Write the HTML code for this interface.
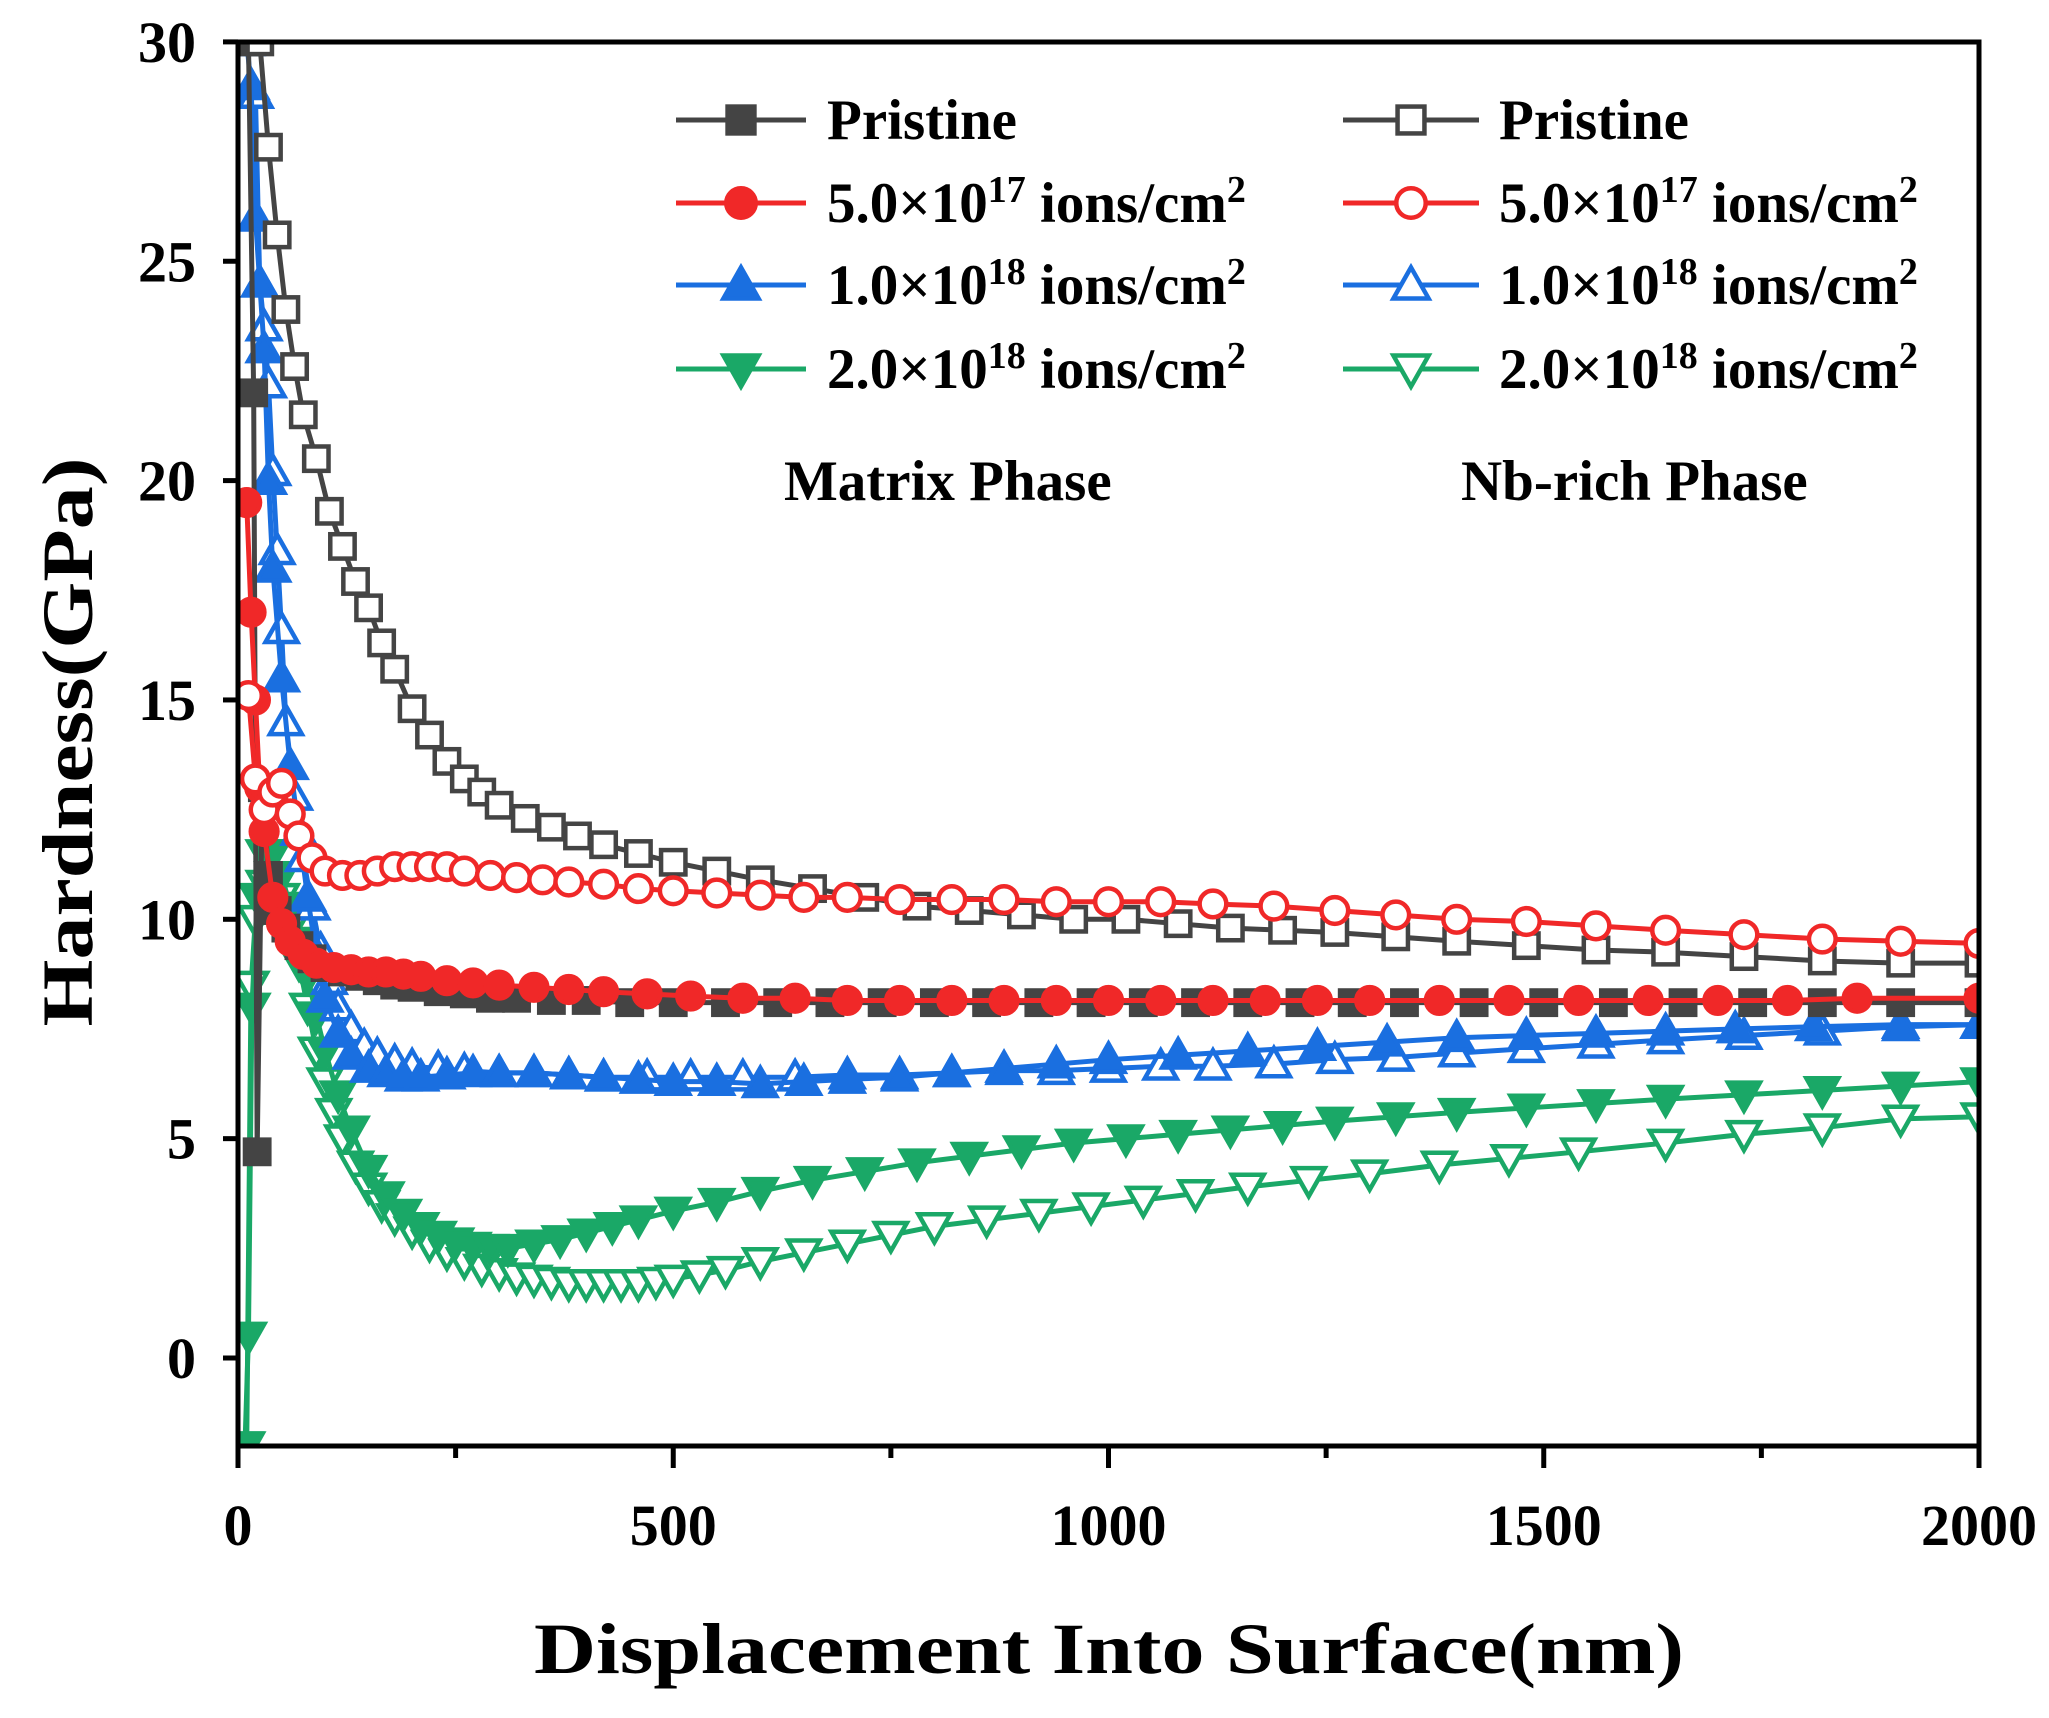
<!DOCTYPE html>
<html><head><meta charset="utf-8"><style>
html,body{margin:0;padding:0;background:#fff;}
svg{display:block;font-family:"Liberation Serif",serif;font-weight:bold;}
</style></head><body>
<svg id="chart" width="2049" height="1718" viewBox="0 0 2049 1718" xmlns="http://www.w3.org/2000/svg">
<rect width="2049" height="1718" fill="#fff"/>
<g id="series"></g>
<g id="axes"></g>
<g id="legend"></g>
</svg>
<script>
const xTicks=[0,500,1000,1500,2000];
const yTicks=[0,5,10,15,20,25,30];
const mPrisX=[12,18,22,28,35,45,55,70,85,100,120,140,160,180,200,230,260,290,320,360,400,450,500,560,620,680,740,800,860,920,980,1040,1100,1160,1220,1280,1340,1420,1500,1580,1660,1740,1820,1910,2000];
const mPrisY=[30,22,4.7,13,11,10.2,9.8,9.4,9.1,8.9,8.8,8.7,8.6,8.5,8.45,8.35,8.3,8.2,8.2,8.15,8.15,8.1,8.1,8.1,8.1,8.1,8.1,8.1,8.1,8.1,8.1,8.1,8.1,8.1,8.1,8.1,8.1,8.1,8.1,8.1,8.1,8.1,8.1,8.1,8.1];
const m5X=[10,15,20,25,30,40,50,60,75,90,110,130,150,170,190,210,240,270,300,340,380,420,470,520,580,640,700,760,820,880,940,1000,1060,1120,1180,1240,1300,1380,1460,1540,1620,1700,1780,1860,2000];
const m5Y=[19.5,17,15,13,12,10.5,9.9,9.5,9.2,9.0,8.9,8.85,8.8,8.8,8.75,8.7,8.6,8.55,8.5,8.45,8.4,8.35,8.3,8.25,8.2,8.2,8.15,8.15,8.15,8.15,8.15,8.15,8.15,8.15,8.15,8.15,8.15,8.15,8.15,8.15,8.15,8.15,8.15,8.2,8.2];
const m1X=[10,15,20,25,30,35,40,50,60,70,80,90,100,115,130,150,170,190,210,240,270,300,340,380,420,460,500,550,600,650,700,760,820,880,940,1000,1080,1160,1240,1320,1400,1480,1560,1640,1720,1810,1910,2000];
const m1Y=[30,29,26,24.5,23,20,18,15.5,13.5,12,10.5,9.2,8.2,7.4,6.9,6.6,6.5,6.4,6.4,6.45,6.5,6.5,6.5,6.45,6.4,6.35,6.3,6.3,6.25,6.3,6.35,6.4,6.5,6.6,6.7,6.8,6.9,7.0,7.1,7.2,7.3,7.35,7.4,7.45,7.5,7.55,7.6,7.6];
const m2X=[8,12,16,22,30,40,50,60,70,80,90,100,115,130,150,170,190,210,230,250,270,290,310,340,370,400,430,460,500,550,600,660,720,780,840,900,960,1020,1080,1140,1200,1260,1330,1400,1480,1560,1640,1730,1820,1910,2000];
const m2Y=[-2,0.5,8,10.5,11.5,11.5,11,10.3,9.5,8.7,7.8,7.0,6.0,5.2,4.3,3.7,3.3,3.0,2.8,2.65,2.55,2.5,2.5,2.6,2.7,2.85,3.0,3.15,3.35,3.55,3.8,4.05,4.25,4.45,4.6,4.75,4.9,5.0,5.1,5.2,5.3,5.4,5.5,5.6,5.7,5.8,5.9,6.0,6.1,6.2,6.3];
const nPrisX=[25,35,45,55,65,75,90,105,120,135,150,165,180,200,220,240,260,280,300,330,360,390,420,460,500,550,600,660,720,780,840,900,960,1020,1080,1140,1200,1260,1330,1400,1480,1560,1640,1730,1820,1910,2000];
const nPrisY=[30,27.6,25.6,23.9,22.6,21.5,20.5,19.3,18.5,17.7,17.1,16.3,15.7,14.8,14.2,13.6,13.2,12.9,12.6,12.3,12.1,11.9,11.7,11.5,11.3,11.1,10.9,10.7,10.5,10.3,10.2,10.1,10.0,10.0,9.9,9.8,9.75,9.7,9.6,9.5,9.4,9.3,9.25,9.15,9.05,9.0,9.0];
const n5X=[12,20,30,40,50,60,70,85,100,120,140,160,180,200,220,240,260,290,320,350,380,420,460,500,550,600,650,700,760,820,880,940,1000,1060,1120,1190,1260,1330,1400,1480,1560,1640,1730,1820,1910,2000];
const n5Y=[15.1,13.2,12.5,12.9,13.1,12.4,11.9,11.4,11.1,11.0,11.0,11.1,11.2,11.2,11.2,11.2,11.1,11.0,10.95,10.9,10.85,10.8,10.7,10.65,10.6,10.55,10.5,10.5,10.45,10.45,10.45,10.4,10.4,10.4,10.35,10.3,10.2,10.1,10.0,9.95,9.85,9.75,9.65,9.55,9.5,9.45];
const n1X=[20,25,30,35,40,45,50,55,65,75,85,95,105,115,130,145,160,180,200,230,260,300,340,380,420,470,520,580,640,700,760,820,880,940,1000,1060,1120,1190,1260,1330,1400,1480,1560,1640,1730,1820,1910,2000];
const n1Y=[28.8,24.5,23.5,22.2,20.2,18.4,16.6,14.5,12.8,11.4,10.3,9.3,8.6,8.0,7.5,7.1,6.9,6.75,6.65,6.6,6.55,6.5,6.5,6.45,6.4,6.4,6.4,6.4,6.4,6.45,6.45,6.5,6.55,6.55,6.6,6.65,6.65,6.7,6.8,6.85,6.95,7.05,7.15,7.25,7.35,7.45,7.55,7.6];
const n2X=[10,15,20,30,40,50,60,70,80,90,100,110,120,135,150,165,180,200,220,240,260,280,300,320,340,360,380,400,420,440,460,480,500,530,560,600,650,700,750,800,860,920,980,1040,1100,1160,1230,1300,1380,1460,1540,1640,1730,1820,1910,2000];
const n2Y=[-2,8.5,10,10.8,11,10.5,9.8,9.0,8.0,7.0,6.3,5.6,5.0,4.4,3.9,3.5,3.2,2.9,2.6,2.4,2.2,2.05,1.95,1.85,1.8,1.75,1.7,1.7,1.7,1.7,1.7,1.75,1.8,1.9,2.0,2.2,2.4,2.6,2.8,3.0,3.15,3.3,3.45,3.6,3.75,3.9,4.05,4.2,4.4,4.55,4.7,4.9,5.1,5.25,5.45,5.5];

const L=238,R=1979,T=42,B=1446;
const xs=v=>L+(v/2000)*(R-L);
const ys=v=>1358-(v)*43.87;
const NS='http://www.w3.org/2000/svg';
function mk(tag,attrs,parent){const e=document.createElementNS(NS,tag);for(const k in attrs)e.setAttribute(k,attrs[k]);parent.appendChild(e);return e;}

function marker(parent,shape,cx,cy,color,filled,sz){
  const fill=filled?color:'#fff';const s=sz;const sw=4.5;
  let e;
  if(shape==='sq'){e=mk('rect',{x:cx-s*0.42,y:cy-s*0.42,width:s*0.84,height:s*0.84,fill:fill,stroke:color,'stroke-width':sw},parent);}
  else if(shape==='ci'){e=mk('circle',{cx:cx,cy:cy,r:s*0.46,fill:fill,stroke:color,'stroke-width':sw},parent);}
  else if(shape==='up'){e=mk('polygon',{points:`${cx},${cy-s*0.55} ${cx-s*0.55},${cy+s*0.42} ${cx+s*0.55},${cy+s*0.42}`,fill:fill,stroke:color,'stroke-width':sw},parent);}
  else {e=mk('polygon',{points:`${cx},${cy+s*0.55} ${cx-s*0.55},${cy-s*0.42} ${cx+s*0.55},${cy-s*0.42}`,fill:fill,stroke:color,'stroke-width':sw},parent);}
  return e;
}

const seriesG=document.getElementById('series');
const clip=mk('clipPath',{id:'pc'},seriesG);mk('rect',{x:L,y:T,width:R-L,height:B-T},clip);
const defs=[
 ['nb-2e18',n2X,n2Y,'#1aa867','dn',false],
 ['matrix-2e18',m2X,m2Y,'#1aa867','dn',true],
 ['nb-1e18',n1X,n1Y,'#1a6fe0','up',false],
 ['matrix-1e18',m1X,m1Y,'#1a6fe0','up',true],
 ['matrix-pristine',mPrisX,mPrisY,'#444','sq',true],
 ['matrix-5e17',m5X,m5Y,'#f02828','ci',true],
 ['nb-pristine',nPrisX,nPrisY,'#444','sq',false],
 ['nb-5e17',n5X,n5Y,'#f02828','ci',false]
];
defs.forEach(d=>{
  const g=mk('g',{'clip-path':'url(#pc)'},seriesG);
  
  
  const pts=d[1].map((x,i)=>xs(x)+','+ys(d[2][i])).join(' ');
  const pl=mk('polyline',{points:pts,fill:'none',stroke:d[3],'stroke-width':5},g);
  
  
  d[1].forEach((x,i)=>{
    const m=marker(g,d[4],xs(x),ys(d[2][i]),d[3],d[5],29);
    
    
  });
});

const ax=document.getElementById('axes');
const frame=mk('rect',{x:L,y:T,width:R-L,height:B-T,fill:'none',stroke:'#000','stroke-width':5},ax);


yTicks.forEach(v=>{
  const y=ys(v);
  const t=mk('line',{x1:L-15,x2:L,y1:y,y2:y,stroke:'#000','stroke-width':5},ax);
  
  
  const tx=mk('text',{x:196,y:y+20,'text-anchor':'end','font-size':58},ax);tx.textContent=v;
  
  
});
xTicks.forEach((v,i)=>{
  const x=xs(v);
  const t=mk('line',{x1:x,x2:x,y1:B,y2:B+22,stroke:'#000','stroke-width':5},ax);
  
  
  if(i<xTicks.length-1){const mt=mk('line',{x1:xs(v+250),x2:xs(v+250),y1:B,y2:B+12,stroke:'#000','stroke-width':5},ax);
  
  }
  const tx=mk('text',{x:x,y:1545,'text-anchor':'middle','font-size':58},ax);tx.textContent=v;
  
  
});
const xt=mk('text',{x:1109,y:1673,'text-anchor':'middle','font-size':72,textLength:1150,lengthAdjust:'spacingAndGlyphs'},ax);
xt.textContent='Displacement Into Surface(nm)';


const yt=mk('text',{x:0,y:0,'text-anchor':'middle','font-size':72,textLength:569,lengthAdjust:'spacingAndGlyphs',transform:'translate(92,742) rotate(-90)'},ax);
yt.textContent='Hardness(GPa)';



const lg=document.getElementById('legend');
const labels=['Pristine','5.0×10<tspan dy="-20" font-size="38">17</tspan><tspan dy="20"> ions/cm</tspan><tspan dy="-20" font-size="38">2</tspan>','1.0×10<tspan dy="-20" font-size="38">18</tspan><tspan dy="20"> ions/cm</tspan><tspan dy="-20" font-size="38">2</tspan>','2.0×10<tspan dy="-20" font-size="38">18</tspan><tspan dy="20"> ions/cm</tspan><tspan dy="-20" font-size="38">2</tspan>'];
const colors=['#444','#f02828','#1a6fe0','#1aa867'];
const shapes=['sq','ci','up','dn'];
const rowsY=[120,203,285,369];
[[676,806,741,827,true],[1343,1479,1411,1499,false]].forEach((c,ci)=>{
  rowsY.forEach((y,i)=>{
    const g=mk('g',{},lg);
    
    
    mk('line',{x1:c[0],x2:c[1],y1:y,y2:y,stroke:colors[i],'stroke-width':5},g);
    marker(g,shapes[i],c[2],y,colors[i],c[4],32);
    const t=mk('text',{x:c[3],y:y+19,'font-size':57},g);t.innerHTML=labels[i];
  });
});
const p1=mk('text',{x:784,y:500,'font-size':57},lg);p1.textContent='Matrix Phase';


const p2=mk('text',{x:1461,y:500,'font-size':57},lg);p2.textContent='Nb-rich Phase';


</script>
</body></html>
